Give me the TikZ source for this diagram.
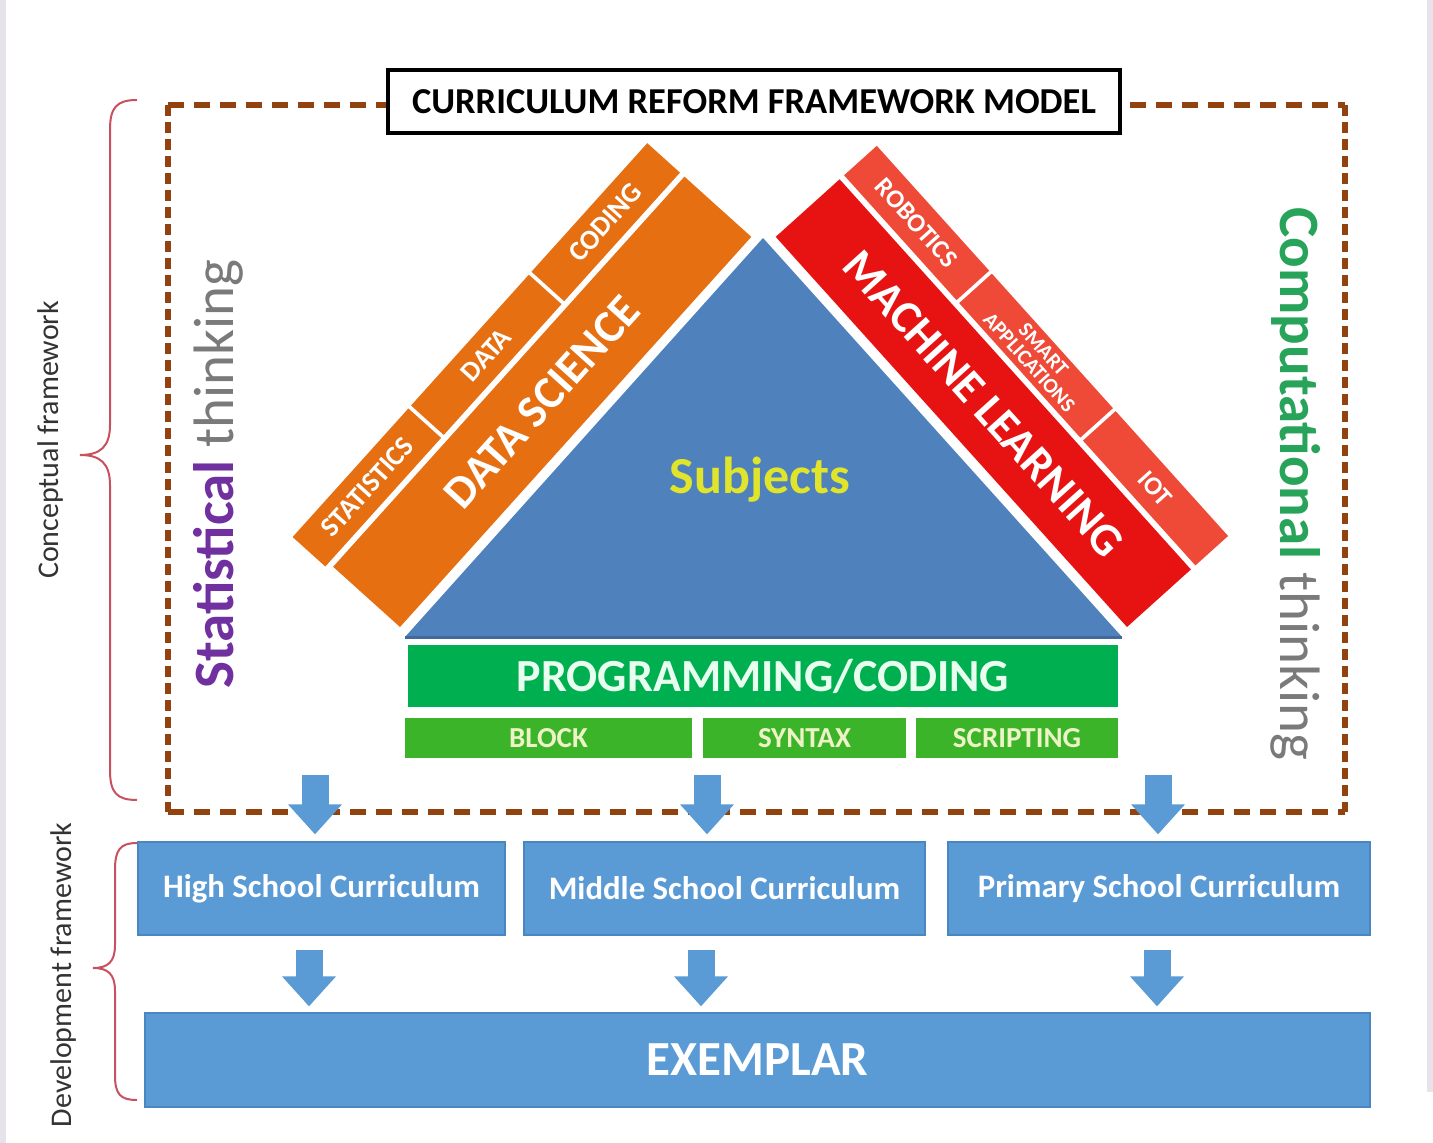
\documentclass[tikz,border=0pt]{standalone}
\usepackage{fontspec}
\setmainfont{Carlito}
\usetikzlibrary{arrows.meta,calc}

\definecolor{edgegray}{HTML}{E6E4EA}
\definecolor{framebrown}{HTML}{92420F}
\definecolor{triblue}{HTML}{4F81BD}
\definecolor{tribluedark}{HTML}{41699C}
\definecolor{subjyellow}{HTML}{E0E52C}
\definecolor{dsorange}{HTML}{E66F12}
\definecolor{mlred}{HTML}{E71313}
\definecolor{mlredlight}{HTML}{EF4A37}
\definecolor{proggreen}{HTML}{00B050}
\definecolor{subgreen}{HTML}{3CB42A}
\definecolor{progtext}{HTML}{E8FFF0}
\definecolor{subtext}{HTML}{EEF3C6}
\definecolor{currblue}{HTML}{5B9BD5}
\definecolor{currbluedark}{HTML}{4A86C0}
\definecolor{statpurple}{HTML}{7030A0}
\definecolor{compgreen}{HTML}{28A35A}
\definecolor{thinkgray}{HTML}{7A7A7A}
\definecolor{bracered}{HTML}{C8505F}
\definecolor{labeltext}{HTML}{333333}

\newcommand\setfs[1]{\fontsize{#1}{#1}\selectfont}

\begin{document}
\begin{tikzpicture}[x=0.5pt,y=-0.5pt,
  frameline/.style={draw=framebrown,line width=3pt},
  titlebox/.style={draw=black,line width=2pt,fill=white,minimum width=366pt,minimum height=31.5pt,inner sep=0pt,font=\bfseries\setfs{18.25}},
  bandbig/.style={text=white,font=\bfseries\setfs{23},inner sep=0pt},
  bandsmall/.style={text=white,font=\bfseries\setfs{14}},
  progbar/.style={fill=proggreen,minimum width=355pt,minimum height=31pt,inner sep=0pt,text=progtext,font=\bfseries\setfs{23}},
  subbar/.style={fill=subgreen,minimum height=20pt,inner sep=0pt,text=subtext,font=\bfseries\setfs{14.5}},
  currbox/.style={fill=currblue,draw=currbluedark,line width=0.6pt,minimum height=46.5pt,inner sep=0pt,text=white,font=\bfseries\setfs{16.4}},
  blockarrow/.style={draw=currblue,line width=13.5pt,-{Triangle[width=26pt,length=15pt]}},
  bracestyle/.style={draw=bracered,line width=1pt},
  sidelabel/.style={text=labeltext,font=\setfs{15},inner sep=0pt}
]
\useasboundingbox (0,0) rectangle (1433,1143);
\fill[white] (0,0) rectangle (1433,1143);
\fill[edgegray] (0,0) rectangle (6,1143);
\fill[edgegray] (1427,0) rectangle (1433,1092);

% dashed frame of the conceptual part
\coordinate (fTL) at (168,105);
\coordinate (fTR) at (1345,105);
\coordinate (fBR) at (1345,812);
\coordinate (fBL) at (168,812);
\draw[frameline,dash pattern=on 8pt off 5pt] (fTL) -- (fTR);
\draw[frameline,dash pattern=on 8pt off 5pt] (fBL) -- (fBR);
\draw[frameline,dash pattern=on 5.5pt off 3pt] (fTL) -- (fBL);
\draw[frameline,dash pattern=on 5.5pt off 3pt] (fTR) -- (fBR);

\node[titlebox] (title) at (754,101.5) {CURRICULUM REFORM FRAMEWORK MODEL};

% central triangle
\fill[triblue] (405,637) -- (763,238) -- (1122,637) -- cycle;
\draw[tribluedark,line width=1.5pt] (405,637) -- (1122,637);
\node[text=subjyellow,font=\bfseries\setfs{26},inner sep=0pt] (subjects) at (760,480) {Subjects};

% data science band (left)
\begin{scope}[shift={(400,627)},rotate=48]
  \fill[dsorange] (0,0) rectangle (525,-90);
  \fill[dsorange] (-5,-96) rectangle (168,-140);
  \fill[dsorange] (172,-96) rectangle (348,-140);
  \fill[dsorange] (352,-96) rectangle (525,-140);
  \node[bandbig,rotate=48] (ds) at (262,-45) {DATA SCIENCE};
  \node[bandsmall,rotate=48] (stats) at (82,-118) {STATISTICS};
  \node[bandsmall,rotate=48] (data) at (260,-118) {DATA};
  \node[bandsmall,rotate=48] (coding) at (438,-118) {CODING};
\end{scope}

% machine learning band (right)
\begin{scope}[shift={(1127,627)},rotate=-48,xscale=-1]
  \fill[mlred] (0,0) rectangle (525,-86);
  \fill[mlredlight] (0,-92) rectangle (168,-136);
  \fill[mlredlight] (172,-92) rectangle (353,-136);
  \fill[mlredlight] (357,-92) rectangle (525,-136);
  \node[bandbig,rotate=-48] (ml) at (262,-43) {MACHINE LEARNING};
  \node[bandsmall,rotate=-48,font=\bfseries\setfs{13}] (iot) at (84,-114) {IOT};
  \node[bandsmall,rotate=-48,font=\bfseries\setfs{10.5},align=center,inner sep=0pt] (smart) at (262,-114) {SMART\\[-1pt]APPLICATIONS};
  \node[bandsmall,rotate=-48,font=\bfseries\setfs{13}] (robotics) at (441,-114) {ROBOTICS};
\end{scope}

% programming bars
\node[progbar] (prog) at (763,676) {PROGRAMMING/CODING};
\node[subbar,minimum width=143.5pt] (block) at (548.5,738) {BLOCK};
\node[subbar,minimum width=101.5pt] (syntax) at (804.5,738) {SYNTAX};
\node[subbar,minimum width=101pt] (scripting) at (1017,738) {SCRIPTING};

% side captions
\node[rotate=90,inner sep=0pt,font=\setfs{28.5}] (stat) at (218,474)
  {\textcolor{statpurple}{\bfseries Statistical} \textcolor{thinkgray}{thinking}};
\node[rotate=-90,inner sep=0pt,font=\setfs{28.5}] (comp) at (1296,484)
  {\textcolor{compgreen}{\bfseries Computational} \textcolor{thinkgray}{thinking}};

% curriculum boxes
\node[currbox,minimum width=183.5pt] (hs) at (321.5,888.5) {High School Curriculum};
\node[currbox,minimum width=200.5pt] (ms) at (724.5,888.5) {Middle School Curriculum};
\node[currbox,minimum width=211pt] (ps) at (1159,888.5) {Primary School Curriculum};
\node[currbox,minimum width=612.5pt,minimum height=47pt,font=\bfseries\setfs{24.5}] (ex) at (757.5,1060) {EXEMPLAR};

% arrows from the framework to the curricula
\coordinate (a1) at (315,775);
\coordinate (a2) at (707,775);
\coordinate (a3) at (1158,775);
\draw[blockarrow] (a1) -- ($(a1 |- hs.north)+(0,-7)$);
\draw[blockarrow] (a2) -- ($(a2 |- ms.north)+(0,-7)$);
\draw[blockarrow] (a3) -- ($(a3 |- ps.north)+(0,-7)$);

% arrows from the curricula to the exemplar
\coordinate (b1) at (309,950);
\coordinate (b2) at (701,950);
\coordinate (b3) at (1157,950);
\draw[blockarrow] (b1) -- ($(b1 |- ex.north)+(0,-6)$);
\draw[blockarrow] (b2) -- ($(b2 |- ex.north)+(0,-6)$);
\draw[blockarrow] (b3) -- ($(b3 |- ex.north)+(0,-6)$);

% braces and their labels
\draw[bracestyle] (137,100) .. controls (116,100) and (110,108) .. (110,130)
  -- (110,425) .. controls (110,447) and (100,455) .. (80,455)
  .. controls (100,455) and (110,463) .. (110,485)
  -- (110,770) .. controls (110,792) and (116,800) .. (137,800);
\draw[bracestyle] (137,843) .. controls (120,843) and (115,850) .. (115,870)
  -- (115,945) .. controls (115,962) and (108,968) .. (93,968)
  .. controls (108,968) and (115,974) .. (115,991)
  -- (115,1075) .. controls (115,1094) and (120,1100) .. (137,1100);
\node[sidelabel,rotate=90] (concept) at (51,440) {Conceptual framework};
\node[sidelabel,rotate=90] (devel) at (64,975) {Development framework};
\end{tikzpicture}
\end{document}
